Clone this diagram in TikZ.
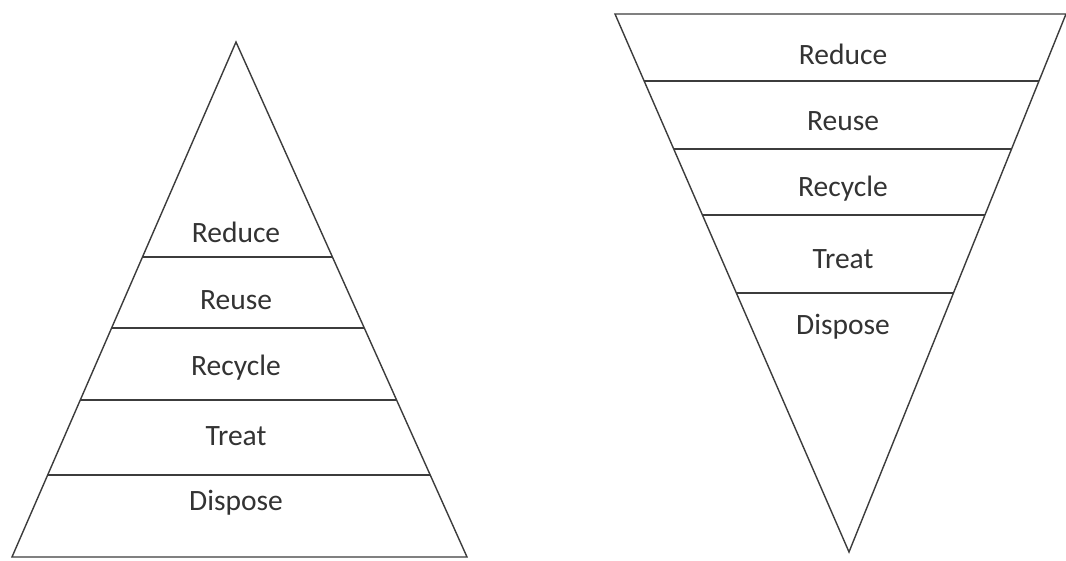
\documentclass[tikz,border=0pt]{standalone}
\usepackage{fontspec}
\setmainfont{Carlito}
\usetikzlibrary{calc}
\definecolor{ink}{HTML}{3C3C3C}
\definecolor{txt}{HTML}{333333}
\tikzset{
  edge/.style={draw=ink, line width=1.4pt, line join=miter},
  sep/.style={draw=ink, line width=1.4pt},
  lbl/.style={text=txt, font=\fontsize{29.5}{33}\selectfont, inner sep=0pt, anchor=center}
}
\begin{document}
\begin{tikzpicture}[x=1pt, y=-1pt]
\useasboundingbox[fill=white] (0,0) rectangle (1066,561);
% left pyramid
\coordinate (A) at (236,42);
\coordinate (BL) at (12,557);
\coordinate (BR) at (467,557);
\draw[edge] (A) -- (BL) -- (BR) -- cycle;
\foreach \t [count=\i] in {0.4175,0.5553,0.6951,0.8408}{
  \coordinate (l\i) at ($(A)!\t!(BL)$);
  \coordinate (r\i) at ($(A)!\t!(BR)$);
  \draw[sep] (l\i) -- (r\i);
}
\node[lbl] (p1) at (236,232) {Reduce};
\node[lbl] (p2) at (236,300) {Reuse};
\node[lbl] (p3) at (236,368) {Recycle};
\node[lbl] (p4) at (236,436) {Treat};
\node[lbl] (p5) at (236,503) {Dispose};
% right inverted pyramid
\coordinate (TL) at (615,14);
\coordinate (TR) at (1066,14);
\coordinate (V) at (849,552);
\draw[edge] (TL) -- (TR) -- (V) -- cycle;
\foreach \t [count=\i] in {0.1245,0.2509,0.3736,0.5186}{
  \coordinate (ll\i) at ($(TL)!\t!(V)$);
  \coordinate (rr\i) at ($(TR)!\t!(V)$);
  \draw[sep] (ll\i) -- (rr\i);
}
\node[lbl] (q1) at (843,54) {Reduce};
\node[lbl] (q2) at (843,121) {Reuse};
\node[lbl] (q3) at (843,189) {Recycle};
\node[lbl] (q4) at (843,259) {Treat};
\node[lbl] (q5) at (843,327) {Dispose};
\end{tikzpicture}
\end{document}
